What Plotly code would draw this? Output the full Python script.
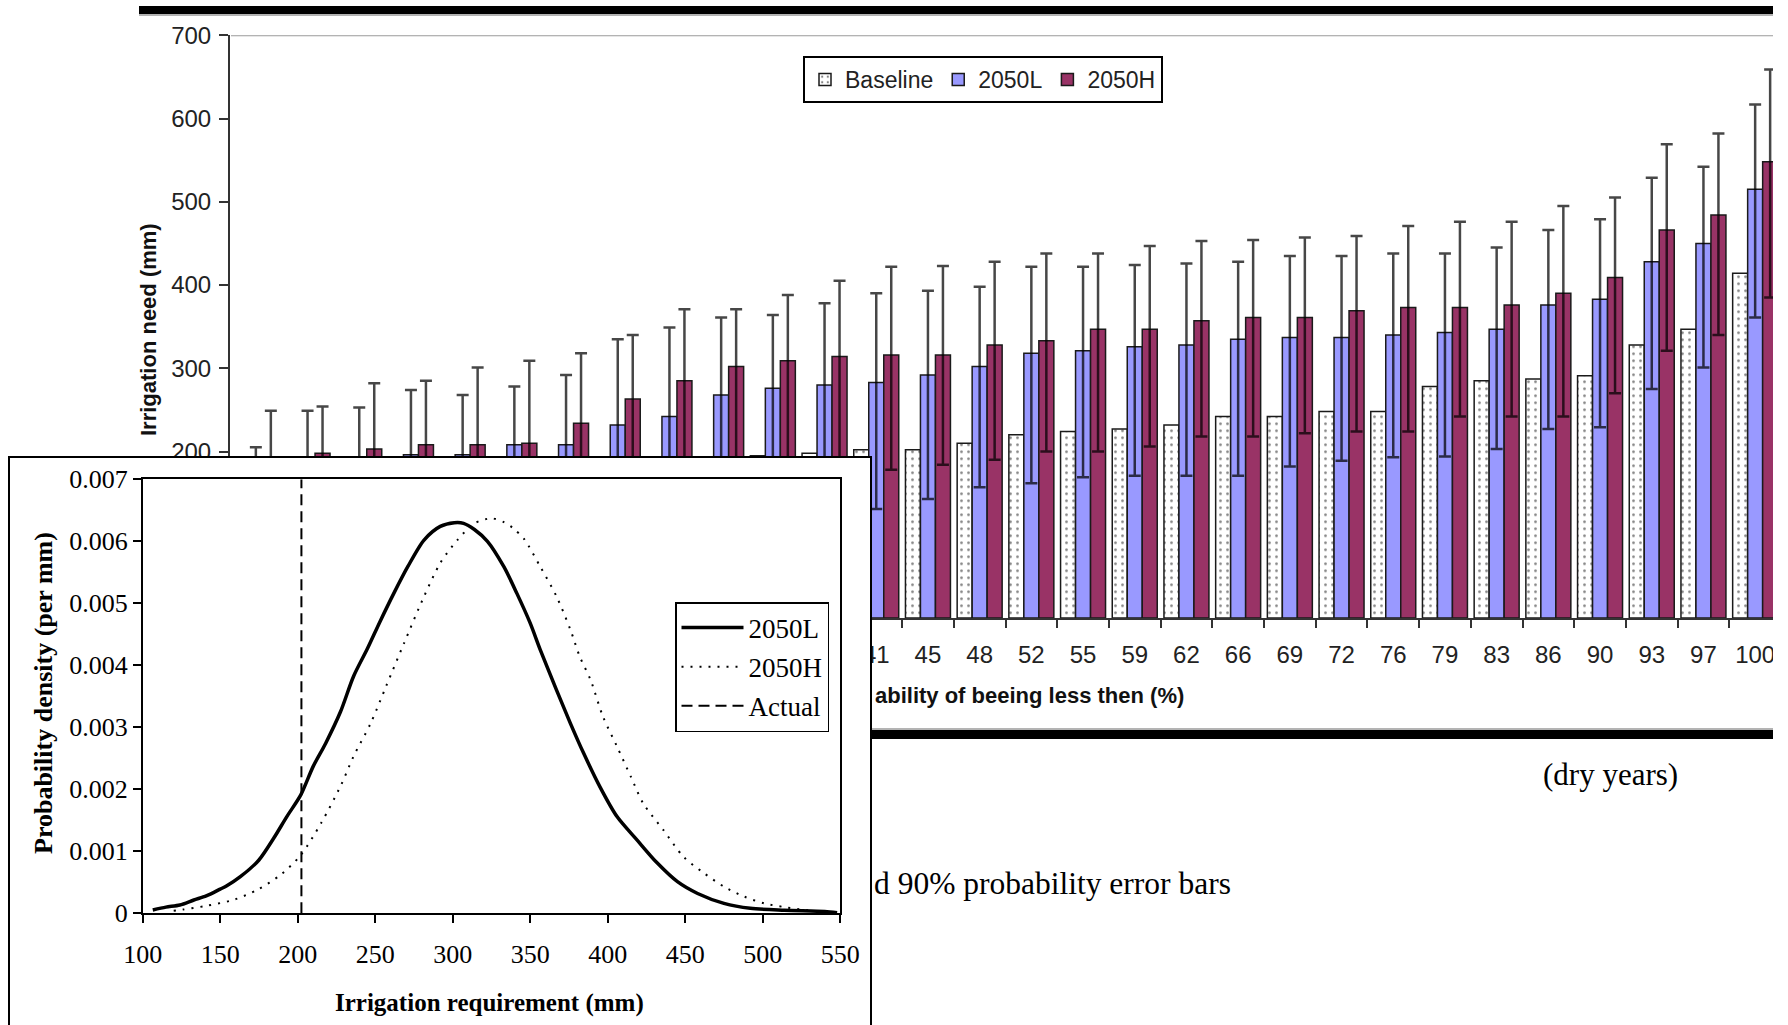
import plotly.graph_objects as go

W, H = 1788, 1025
def fx(x): return x / W
def fy(y): return 1 - y / H

# ---------------- bar chart data ----------------
categories = ["0", "3", "7", "10", "14", "17", "21", "24", "28", "31", "34", "38", "41", "45", "48",
              "52", "55", "59", "62", "66", "69", "72", "76", "79", "83", "86", "90", "93", "97", "100"]
baseline = [105, 125, 140, 150, 158, 165, 172, 178, 184, 190, 195, 198, 202, 202, 210,
            220, 224, 227, 232, 242, 242, 248, 248, 278, 285, 287, 291, 328, 347, 414]
low_2050 = [115, 170, 185, 196, 196, 208, 208, 232, 242, 268, 276, 280, 283, 292, 302,
            318, 321, 326, 328, 335, 337, 337, 340, 343, 347, 376, 383, 428, 450, 515]
low_2050_upper = [205, 249, 253, 274, 268, 278, 292, 335, 349, 361, 364, 378, 390, 393, 398,
                  422, 422, 424, 426, 428, 435, 435, 438, 438, 445, 466, 479, 529, 542, 617]
low_2050_lower = [60, 80, 85, 90, 92, 95, 100, 105, 110, 115, 120, 126, 131, 143, 157,
                  162, 169, 171, 171, 171, 182, 189, 193, 194, 203, 227, 229, 275, 301, 361]
high_2050 = [140, 198, 203, 208, 208, 210, 234, 263, 285, 302, 309, 314, 316, 316, 328,
             333, 347, 347, 357, 361, 361, 369, 373, 373, 376, 390, 409, 466, 484, 548]
high_2050_upper = [249, 254, 282, 285, 301, 309, 318, 340, 371, 371, 388, 405, 422, 423, 428,
                   438, 438, 447, 453, 454, 457, 459, 471, 476, 476, 495, 505, 569, 582, 659]
high_2050_lower = [90, 110, 120, 130, 135, 140, 145, 150, 160, 165, 170, 174, 178, 184, 190,
                   200, 200, 206, 218, 218, 222, 224, 224, 242, 242, 242, 270, 321, 340, 385]
# tick labels that are not hidden behind the inset
bar_xticks_visible = categories[12:]
bar_yticks = [200, 300, 400, 500, 600, 700]

# ---------------- inset density data ----------------
l_x = [106.5, 115, 124, 133, 141, 150, 154, 163, 175, 184.5, 193, 202, 210, 218, 227.6, 236,
       245, 253, 262, 271, 281.5, 292, 301, 307, 314, 322.4, 333, 341.4, 350, 356.5, 367, 376,
       384.5, 395, 406, 419, 432, 445, 458, 475, 492, 514, 540, 548]
l_y = [0.000054, 0.0001, 0.000134, 0.000215, 0.00028, 0.00039, 0.00044, 0.00059, 0.00086,
       0.00121, 0.00156, 0.00191, 0.00237, 0.00274, 0.00325, 0.00382, 0.00427, 0.0047, 0.00516,
       0.00559, 0.00602, 0.00624, 0.0063, 0.00629, 0.00619, 0.006, 0.00559, 0.00516, 0.00468,
       0.00425, 0.0036, 0.00306, 0.00258, 0.00204, 0.00156, 0.00118, 0.00081, 0.00051, 0.00032,
       0.00016, 0.00008, 0.00005, 0.00003, 0.00001]
h_x = [120, 126, 141, 159, 174, 189, 202, 215, 228, 236, 247, 257, 268.5, 281.5, 292, 303, 314,
       325, 333, 339, 346, 356.5, 367, 376, 382, 389, 397, 406, 415, 423, 436, 449, 462, 475,
       488, 501, 514, 529, 548]
h_y = [0.00004, 0.00006, 0.00012, 0.00022, 0.00038, 0.00062, 0.00094, 0.00145, 0.00207,
       0.00253, 0.00306, 0.00366, 0.00435, 0.00511, 0.00565, 0.00602, 0.00629, 0.00637, 0.00631,
       0.00621, 0.00604, 0.00559, 0.00511, 0.00457, 0.00414, 0.00376, 0.00317, 0.00269, 0.0022,
       0.00177, 0.00134, 0.00091, 0.00065, 0.00043, 0.00027, 0.00016, 0.0001, 0.00005, 0.00001]
actual_x = [202.4, 202.4]
actual_y = [0, 0.007]
inset_yticks = [0, 0.001, 0.002, 0.003, 0.004, 0.005, 0.006, 0.007]
inset_yticktext = ["0", "0.001", "0.002", "0.003", "0.004", "0.005", "0.006", "0.007"]
inset_xticks = [100, 150, 200, 250, 300, 350, 400, 450, 500, 550]

SANS = "Liberation Sans, Arial, sans-serif"
SERIF = "Liberation Serif, Times New Roman, serif"
ERR = "rgba(0,0,0,0.72)"
OUT = "#1a1a1a"

fig = go.Figure()

fig.add_trace(go.Bar(
    x=categories, y=baseline, name="Baseline", xaxis="x", yaxis="y",
    marker=dict(color="white", line=dict(color=OUT, width=1.5),
                pattern=dict(shape=".", fgcolor="black", bgcolor="white", size=7, solidity=0.12)),
))
fig.add_trace(go.Bar(
    x=categories, y=low_2050, name="2050L", xaxis="x", yaxis="y",
    marker=dict(color="#9999FF", line=dict(color=OUT, width=1.5)),
    error_y=dict(type="data", symmetric=False,
                 array=[u - v for u, v in zip(low_2050_upper, low_2050)],
                 arrayminus=[v - l for v, l in zip(low_2050, low_2050_lower)],
                 color=ERR, thickness=2.5, width=6),
))
fig.add_trace(go.Bar(
    x=categories, y=high_2050, name="2050H", xaxis="x", yaxis="y",
    marker=dict(color="#993366", line=dict(color=OUT, width=1.5)),
    error_y=dict(type="data", symmetric=False,
                 array=[u - v for u, v in zip(high_2050_upper, high_2050)],
                 arrayminus=[v - l for v, l in zip(high_2050, high_2050_lower)],
                 color=ERR, thickness=2.5, width=6),
))

# dummy trace creating the white inset frame subplot
fig.add_trace(go.Scatter(x=[None], y=[None], xaxis="x2", yaxis="y2", showlegend=False,
                         hoverinfo="skip", mode="lines"))

# inset curves
fig.add_trace(go.Scatter(x=l_x, y=l_y, name="2050L", xaxis="x3", yaxis="y3", mode="lines",
                         line=dict(color="black", width=3.5, shape="spline", smoothing=0.8),
                         legend="legend2", legendgroup="a"))
fig.add_trace(go.Scatter(x=h_x, y=h_y, name="2050H", xaxis="x3", yaxis="y3", mode="lines",
                         line=dict(color="black", width=2, dash="2px,7px", shape="spline", smoothing=0.8),
                         legend="legend2", legendgroup="b"))
fig.add_trace(go.Scatter(x=actual_x, y=actual_y, name="Actual", xaxis="x3", yaxis="y3", mode="lines",
                         line=dict(color="black", width=2, dash="11px,6px"),
                         legend="legend2", legendgroup="c"))

fig.update_layout(
    width=W, height=H,
    margin=dict(l=0, r=0, t=0, b=0, pad=0, autoexpand=False),
    paper_bgcolor="white", plot_bgcolor="white",
    barmode="group", bargap=0.13, bargroupgap=0,
    xaxis=dict(domain=[fx(230), fx(1781)], range=[-0.5, 29.5], type="category", anchor="y",
               tickvals=bar_xticks_visible, automargin=False,
               tickson="boundaries", ticks="outside", ticklen=8, tickwidth=2, tickcolor="#333",
               showline=True, linecolor="#333", linewidth=2, showgrid=False, zeroline=False,
               tickfont=dict(family=SANS, size=24, color="#222"), ticklabelstandoff=14),
    yaxis=dict(domain=[fy(618), fy(35.3)], range=[0, 700], tickvals=bar_yticks, anchor="x",
               automargin=False,
               ticks="outside", ticklen=9, tickwidth=2, tickcolor="#333",
               showline=True, linecolor="#333", linewidth=2, showgrid=False, zeroline=False,
               tickfont=dict(family=SANS, size=24, color="#222"), ticklabelstandoff=3),
    xaxis2=dict(domain=[fx(10), fx(870)], range=[0, 1], anchor="y2", side="top", automargin=False,
                showline=True, linecolor="black", linewidth=2, showticklabels=False,
                ticks="", showgrid=False, zeroline=False, fixedrange=True),
    yaxis2=dict(domain=[0, fy(458)], range=[0, 1], anchor="x2", showline=True, mirror=True,
                automargin=False,
                linecolor="black", linewidth=2, showticklabels=False, ticks="",
                showgrid=False, zeroline=False, fixedrange=True),
    xaxis3=dict(domain=[fx(142.7), fx(840.2)], range=[100, 550], tickvals=inset_xticks, anchor="y3",
                automargin=False,
                ticks="outside", ticklen=8, tickwidth=1.5, tickcolor="black",
                showline=True, mirror=True, linecolor="black", linewidth=1.5,
                showgrid=False, zeroline=False,
                tickfont=dict(family=SERIF, size=26, color="black"), ticklabelstandoff=9),
    yaxis3=dict(domain=[fy(913.3), fy(479.3)], range=[0, 0.007], tickvals=inset_yticks,
                ticktext=inset_yticktext, anchor="x3", automargin=False,
                ticks="outside", ticklen=8, tickwidth=1.5, tickcolor="black",
                showline=True, mirror=True, linecolor="black", linewidth=1.5,
                showgrid=False, zeroline=False,
                tickfont=dict(family=SERIF, size=26, color="black"), ticklabelstandoff=0),
    legend=dict(x=fx(803), y=fy(56), xanchor="left", yanchor="top", orientation="h",
                bordercolor="black", borderwidth=2, bgcolor="white",
                font=dict(family=SANS, size=23, color="#222"), itemwidth=30),
    legend2=dict(x=fx(675), y=fy(602), xanchor="left", yanchor="top", orientation="v",
                 bordercolor="black", borderwidth=1.5, bgcolor="white", itemwidth=62,
                 font=dict(family=SERIF, size=27, color="black"), tracegroupgap=1),
    showlegend=True,
)

annotations = [
    dict(text="<b>Irrigation need (mm)</b>", x=fx(148), y=fy(330), textangle=-90,
         font=dict(family=SANS, size=22, color="#111")),
    dict(text="<b>ability of beeing less then (%)</b>", x=fx(873), y=fy(695), xanchor="left",
         font=dict(family=SANS, size=22, color="#111")),
    dict(text="<b>Probability density (per mm)</b>", x=fx(43), y=fy(693), textangle=-90,
         font=dict(family=SERIF, size=26, color="black")),
    dict(text="<b>Irrigation requirement (mm)</b>", x=fx(490), y=fy(1003),
         font=dict(family=SERIF, size=25, color="black")),
    dict(text="(dry years)", x=fx(1541), y=fy(774), xanchor="left",
         font=dict(family=SERIF, size=31, color="black")),
    dict(text="d 90% probability error bars", x=fx(872), y=fy(883), xanchor="left",
         font=dict(family=SERIF, size=31.5, color="black")),
]
for a in annotations:
    a.update(xref="paper", yref="paper", showarrow=False)
    a.setdefault("xanchor", "center")
    a.setdefault("yanchor", "middle")
fig.update_layout(annotations=annotations)

shapes = [
    dict(type="line", xref="paper", yref="paper", x0=fx(139), x1=fx(1773), y0=fy(10), y1=fy(10),
         line=dict(color="black", width=8), layer="below"),
    dict(type="line", xref="paper", yref="paper", x0=fx(139), x1=fx(1773), y0=fy(15), y1=fy(15),
         line=dict(color="#9a9a9a", width=1.5), layer="below"),
    dict(type="line", xref="paper", yref="paper", x0=fx(139), x1=fx(1773), y0=fy(734.5), y1=fy(734.5),
         line=dict(color="black", width=9), layer="below"),
    dict(type="line", xref="paper", yref="paper", x0=fx(139), x1=fx(1773), y0=fy(729), y1=fy(729),
         line=dict(color="#9a9a9a", width=1.5), layer="below"),
    dict(type="line", xref="paper", yref="y", x0=fx(231), x1=fx(1773), y0=700, y1=700,
         line=dict(color="#9a9a9a", width=2), layer="below"),
    dict(type="rect", xref="paper", yref="paper", x0=fx(1773), x1=1, y0=0, y1=1,
         fillcolor="white", line=dict(width=0), layer="above"),
]
fig.update_layout(shapes=shapes)

fig.write_html(
    "out.html",
    config={"displayModeBar": False},
    post_script="document.body.style.margin='0px';document.body.style.padding='0px';"
                "document.documentElement.style.overflow='hidden';",
)
